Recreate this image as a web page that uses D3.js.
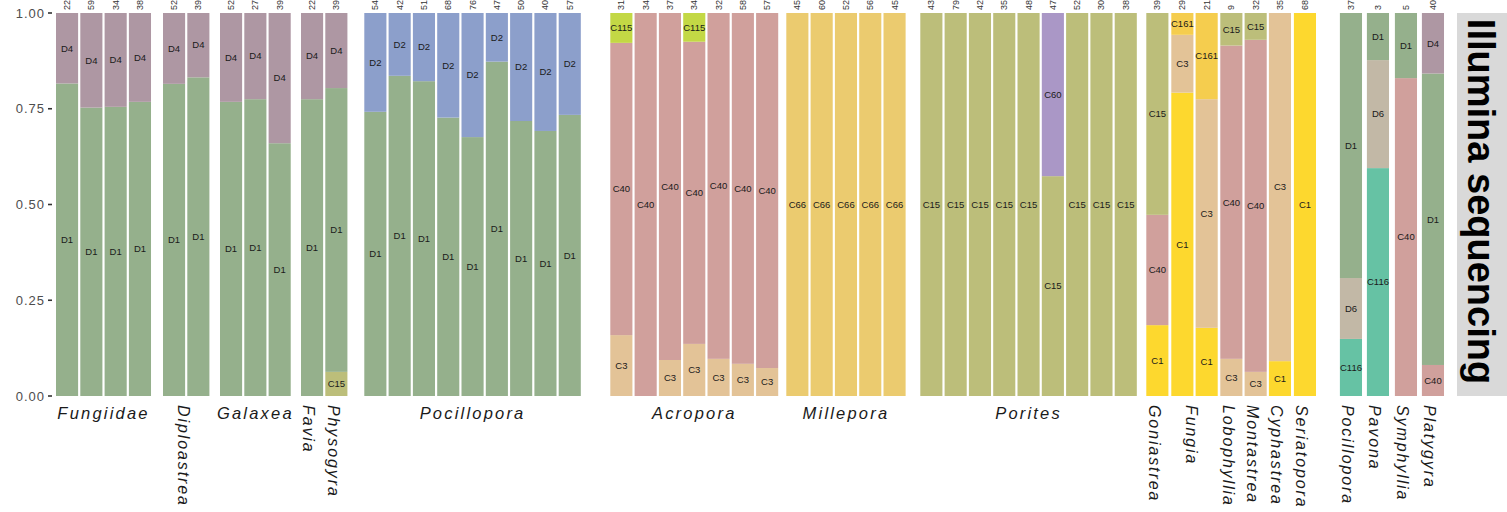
<!DOCTYPE html>
<html>
<head>
<meta charset="utf-8">
<script src="https://cdn.jsdelivr.net/npm/d3@7"></script>
<style>
  html, body { margin: 0; padding: 0; background: #fff; }
  svg { display: block; }
  text { font-family: "Liberation Sans", Arial, sans-serif; }
</style>
</head>
<body>
<svg id="chart" width="1507" height="512"></svg>
<script>
// ---------------- DATA ----------------
const genera = ["Fungiidae","Diploastrea","Galaxea","Favia","Physogyra","Pocillopora","Acropora","Millepora","Porites",
  "Goniastrea","Fungia","Lobophyllia","Montastrea","Cyphastrea","Seriatopora","Pocillopora","Pavona","Symphyllia","Platygyra"];
const barsPerGenus = [4,2,3,1,1,9,7,5,9,1,2,1,1,1,1,1,1,1,1];
const horizontalLabel = [true,false,true,false,false,true,true,true,true,false,false,false,false,false,false,false,false,false,false];

// sample sizes printed (clipped) above each bar
const sampleLabels = ["22","59","34","38", "52","39", "52","27","39", "22", "39",
  "54","42","51","68","76","47","50","40","57",
  "31","34","37","34","32","58","57",
  "45","60","52","56","45",
  "43","79","42","35","48","47","52","30","38",
  "39", "29","21", "9", "32", "35", "68", "37", "3", "5", "40"];

// symbiont types, stacked bottom -> top
const types = ["C116","C1","C3","C40","C15","C60","C66","C115","C161","D6","D1","D2","D4"];
const typeColors = ["#66C2A4","#FDD82E","#E3C397","#D0A09C","#BCBE7A","#AA97C6","#EBCB6F","#C3D845","#F5CD4E","#C2B8A6","#95B08C","#8C9FCB","#AE97A3"];

// proportions per bar (52 bars, in order of genera above)
const C116 = [0,0,0,0, 0,0, 0,0,0, 0, 0, 0,0,0,0,0,0,0,0,0, 0,0,0,0,0,0,0, 0,0,0,0,0, 0,0,0,0,0,0,0,0,0, 0, 0,0, 0, 0, 0, 0, 0.149, 0.595, 0, 0];
const C1   = [0,0,0,0, 0,0, 0,0,0, 0, 0, 0,0,0,0,0,0,0,0,0, 0,0,0,0,0,0,0, 0,0,0,0,0, 0,0,0,0,0,0,0,0,0, 0.185, 0.792,0.178, 0, 0, 0.091, 1, 0, 0, 0, 0];
const C3   = [0,0,0,0, 0,0, 0,0,0, 0, 0, 0,0,0,0,0,0,0,0,0, 0.159,0,0.094,0.136,0.097,0.084,0.073, 0,0,0,0,0, 0,0,0,0,0,0,0,0,0, 0, 0.151,0.597, 0.097, 0.063, 0.909, 0, 0, 0, 0, 0];
const C40  = [0,0,0,0, 0,0, 0,0,0, 0, 0, 0,0,0,0,0,0,0,0,0, 0.763,1,0.906,0.789,0.903,0.916,0.927, 0,0,0,0,0, 0,0,0,0,0,0,0,0,0, 0.288, 0,0, 0.818, 0.867, 0, 0, 0, 0, 0.830, 0.081];
const C15  = [0,0,0,0, 0,0, 0,0,0, 0, 0.063, 0,0,0,0,0,0,0,0,0, 0,0,0,0,0,0,0, 0,0,0,0,0, 1,1,1,1,1,0.574,1,1,1, 0.527, 0,0, 0.085, 0.070, 0, 0, 0, 0, 0, 0];
const C60  = [0,0,0,0, 0,0, 0,0,0, 0, 0, 0,0,0,0,0,0,0,0,0, 0,0,0,0,0,0,0, 0,0,0,0,0, 0,0,0,0,0,0.426,0,0,0, 0, 0,0, 0, 0, 0, 0, 0, 0, 0, 0];
const C66  = [0,0,0,0, 0,0, 0,0,0, 0, 0, 0,0,0,0,0,0,0,0,0, 0,0,0,0,0,0,0, 1,1,1,1,1, 0,0,0,0,0,0,0,0,0, 0, 0,0, 0, 0, 0, 0, 0, 0, 0, 0];
const C115 = [0,0,0,0, 0,0, 0,0,0, 0, 0, 0,0,0,0,0,0,0,0,0, 0.078,0,0,0.075,0,0,0, 0,0,0,0,0, 0,0,0,0,0,0,0,0,0, 0, 0,0, 0, 0, 0, 0, 0, 0, 0, 0];
const C161 = [0,0,0,0, 0,0, 0,0,0, 0, 0, 0,0,0,0,0,0,0,0,0, 0,0,0,0,0,0,0, 0,0,0,0,0, 0,0,0,0,0,0,0,0,0, 0, 0.057,0.225, 0, 0, 0, 0, 0, 0, 0, 0];
const D6   = [0,0,0,0, 0,0, 0,0,0, 0, 0, 0,0,0,0,0,0,0,0,0, 0,0,0,0,0,0,0, 0,0,0,0,0, 0,0,0,0,0,0,0,0,0, 0, 0,0, 0, 0, 0, 0, 0.159, 0.282, 0, 0];
const D1   = [0.816,0.753,0.755,0.768, 0.815,0.832, 0.768,0.775,0.660, 0.775, 0.741,
              0.742,0.836,0.822,0.727,0.676,0.873,0.718,0.692,0.734, 0,0,0,0,0,0,0, 0,0,0,0,0, 0,0,0,0,0,0,0,0,0, 0, 0,0, 0, 0, 0, 0, 0.692, 0.123, 0.170, 0.761];
const D2   = [0,0,0,0, 0,0, 0,0,0, 0, 0, 0.258,0.164,0.178,0.273,0.324,0.127,0.282,0.308,0.266, 0,0,0,0,0,0,0, 0,0,0,0,0, 0,0,0,0,0,0,0,0,0, 0, 0,0, 0, 0, 0, 0, 0, 0, 0, 0];
const D4   = [0.184,0.247,0.245,0.232, 0.185,0.168, 0.232,0.225,0.340, 0.225, 0.196, 0,0,0,0,0,0,0,0,0, 0,0,0,0,0,0,0, 0,0,0,0,0, 0,0,0,0,0,0,0,0,0, 0, 0,0, 0, 0, 0, 0, 0, 0, 0, 0.158];

const yTicks = [0, 0.25, 0.5, 0.75, 1];
const stripLabel = "Illumina sequencing";

// ---------------- LAYOUT ----------------
const series = {C116, C1, C3, C40, C15, C60, C66, C115, C161, D6, D1, D2, D4};
const W = 1507, H = 512;
const plotTop = 13, plotBottom = 396;
const pitch = 24.3;
// extra spacing (px) before each panel
const panelGap = [0, 9.8, 8.4, 8.1, 0, 14.7, 27.3, 5.9, 12.5, 7.3, 0.7, 0.4, 0, 0, 0.7, 21.7, 2.7, 3.7, 2.7];
const firstPanelX = 56;
const stripX = 1457;

const svg = d3.select("#chart");
const y = d3.scaleLinear().domain([0, 1]).range([plotBottom, plotTop]);
const color = d3.scaleOrdinal().domain(types).range(typeColors);

// rows for stack
const nBars = sampleLabels.length;
const rows = d3.range(nBars).map(i => {
  const r = {idx: i};
  types.forEach(t => r[t] = series[t][i]);
  return r;
});
const stacked = d3.stack().keys(types)(rows);

// panels with band scales
const panels = [];
let cursor = firstPanelX, barIdx = 0;
genera.forEach((g, p) => {
  cursor += panelGap[p];
  const n = barsPerGenus[p];
  const ids = d3.range(barIdx, barIdx + n);
  const x = d3.scaleBand().domain(ids)
    .range([cursor - pitch * 0.045, cursor - pitch * 0.045 + n * pitch])
    .paddingInner(0.09).paddingOuter(0.045);
  panels.push({name: g, ids, x, horiz: horizontalLabel[p]});
  ids.forEach(i => rows[i].x = x);
  cursor += n * pitch;
  barIdx += n;
});
const xOf = i => rows[i].x(i);
const bw = i => rows[i].x.bandwidth();

// bars
const gBars = svg.append("g");
stacked.forEach(layer => {
  const key = layer.key;
  layer.forEach((d, i) => {
    if (d[1] - d[0] <= 0) return;
    gBars.append("rect")
      .attr("x", xOf(i)).attr("width", bw(i))
      .attr("y", y(d[1])).attr("height", y(d[0]) - y(d[1]))
      .attr("fill", color(key));
  });
});
// segment labels
const gLab = svg.append("g");
stacked.forEach(layer => {
  const key = layer.key;
  layer.forEach((d, i) => {
    if (d[1] - d[0] <= 0) return;
    gLab.append("text")
      .attr("x", xOf(i) + bw(i) / 2)
      .attr("y", y((d[0] + d[1]) / 2))
      .attr("text-anchor", "middle").attr("dy", "0.35em")
      .attr("font-size", 9.5).attr("fill", "#1a1a1a")
      .text(key);
  });
});

// clipped sample-size labels on top
rows.forEach((r, i) => {
  const cx = xOf(i) + bw(i) / 2;
  svg.append("text")
    .attr("transform", `translate(${cx + 3},10) rotate(-90)`)
    .attr("text-anchor", "start")
    .attr("font-size", 9).attr("fill", "#333")
    .text(sampleLabels[i]);
});

// y axis
const gAx = svg.append("g");
yTicks.forEach(t => {
  gAx.append("line").attr("x1", 48).attr("x2", 52).attr("y1", y(t)).attr("y2", y(t))
    .attr("stroke", "#333").attr("stroke-width", 1.6);
  gAx.append("text").attr("x", 45).attr("y", y(t)).attr("dy", "0.36em")
    .attr("text-anchor", "end").attr("font-size", 13).attr("letter-spacing", 1)
    .attr("fill", "#4D4D4D").text(d3.format(".2f")(t));
});

// x panel labels
panels.forEach(p => {
  const x0 = p.x(p.ids[0]);
  const x1 = p.x(p.ids[p.ids.length - 1]) + p.x.bandwidth();
  const cx = (x0 + x1) / 2;
  if (p.horiz) {
    svg.append("text").attr("x", cx).attr("y", 419)
      .attr("text-anchor", "middle").attr("font-size", 16.5)
      .attr("font-style", "italic").attr("letter-spacing", 2.2)
      .attr("fill", "#1a1a1a").text(p.name);
  } else {
    svg.append("text")
      .attr("transform", `translate(${cx - 3},405) rotate(90)`)
      .attr("text-anchor", "start").attr("dy", "0.35em").attr("font-size", 16)
      .attr("font-style", "italic").attr("letter-spacing", 1.9)
      .attr("fill", "#1a1a1a").text(p.name);
  }
});

// facet strip
svg.append("rect").attr("x", stripX).attr("y", plotTop).attr("width", W - stripX)
  .attr("height", plotBottom - plotTop).attr("fill", "#D9D9D9");
svg.append("text")
  .attr("transform", `translate(1468,${(plotTop + plotBottom) / 2 - 3}) rotate(90)`)
  .attr("text-anchor", "middle").attr("font-size", 38).attr("font-weight", "bold")
  .attr("fill", "#000").text(stripLabel);
</script>
</body>
</html>
